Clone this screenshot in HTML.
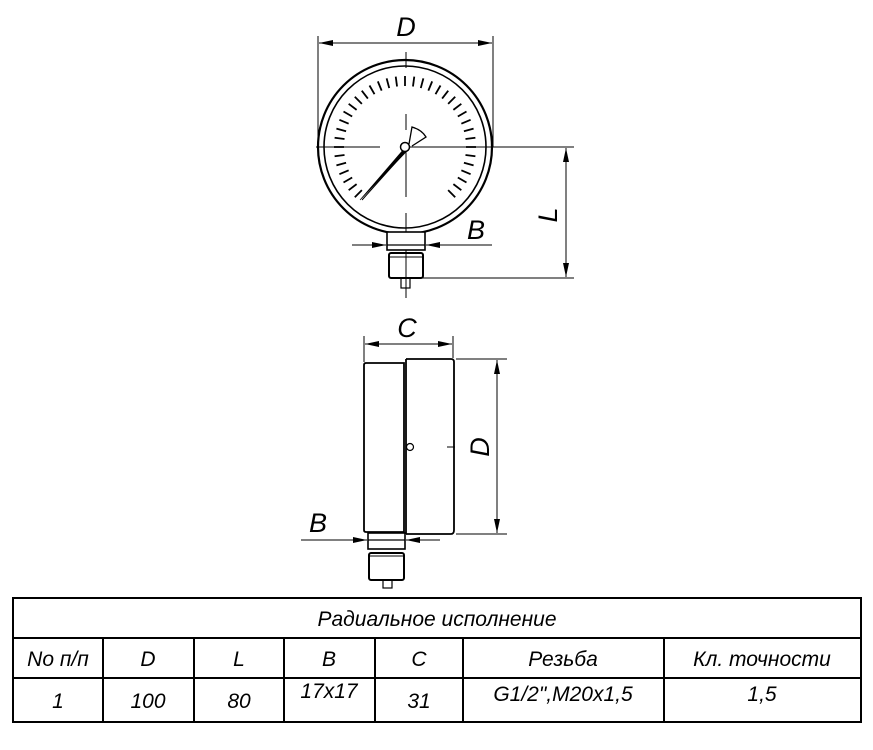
<!DOCTYPE html>
<html><head><meta charset="utf-8"><style>
html,body{margin:0;padding:0;background:#fff;}
svg{display:block}
text{font-family:"Liberation Sans","DejaVu Sans",sans-serif;font-style:italic;fill:#000}
</style></head><body>
<svg width="873" height="750" viewBox="0 0 873 750" xmlns="http://www.w3.org/2000/svg">
<defs>
<marker id="a" viewBox="0 0 14 6" refX="14" refY="3" markerWidth="14" markerHeight="6" orient="auto-start-reverse" markerUnits="userSpaceOnUse"><path d="M0,0 L14,3 L0,6 z" fill="#000"/></marker>
<line id="t" x1="405" y1="76" x2="405" y2="86" stroke="#000" stroke-width="1.8"/>
</defs>
<g stroke="#000" fill="none">
<circle cx="405" cy="147" r="87" stroke-width="2.2"/>
<circle cx="405" cy="147" r="81" stroke-width="1.6"/>
<line x1="318" y1="36" x2="318" y2="147" stroke-width="1"/>
<line x1="493" y1="36" x2="493" y2="147" stroke-width="1"/>
<line x1="319" y1="43" x2="492" y2="43" stroke-width="1" marker-start="url(#a)" marker-end="url(#a)"/>
<line x1="316" y1="147" x2="380" y2="147" stroke-width="1"/>
<line x1="410" y1="147" x2="574" y2="147" stroke-width="1"/>
<line x1="406" y1="52" x2="406" y2="68" stroke-width="1"/>
<line x1="406" y1="114" x2="406" y2="130" stroke-width="1"/>
<line x1="406" y1="150" x2="406" y2="197" stroke-width="1"/>
<line x1="406" y1="213" x2="406" y2="298" stroke-width="1"/>
<line x1="566" y1="148" x2="566" y2="277" stroke-width="1" marker-start="url(#a)" marker-end="url(#a)"/>
<line x1="420" y1="278" x2="574" y2="278" stroke-width="1"/>
</g>
<g>
<use href="#t" transform="rotate(-135 405 147)"/>
<use href="#t" transform="rotate(-127.5 405 147)"/>
<use href="#t" transform="rotate(-120 405 147)"/>
<use href="#t" transform="rotate(-112.5 405 147)"/>
<use href="#t" transform="rotate(-105 405 147)"/>
<use href="#t" transform="rotate(-97.5 405 147)"/>
<use href="#t" transform="rotate(-90 405 147)"/>
<use href="#t" transform="rotate(-82.5 405 147)"/>
<use href="#t" transform="rotate(-75 405 147)"/>
<use href="#t" transform="rotate(-67.5 405 147)"/>
<use href="#t" transform="rotate(-60 405 147)"/>
<use href="#t" transform="rotate(-52.5 405 147)"/>
<use href="#t" transform="rotate(-45 405 147)"/>
<use href="#t" transform="rotate(-37.5 405 147)"/>
<use href="#t" transform="rotate(-30 405 147)"/>
<use href="#t" transform="rotate(-22.5 405 147)"/>
<use href="#t" transform="rotate(-15 405 147)"/>
<use href="#t" transform="rotate(-7.5 405 147)"/>
<use href="#t" transform="rotate(0 405 147)"/>
<use href="#t" transform="rotate(7.5 405 147)"/>
<use href="#t" transform="rotate(15 405 147)"/>
<use href="#t" transform="rotate(22.5 405 147)"/>
<use href="#t" transform="rotate(30 405 147)"/>
<use href="#t" transform="rotate(37.5 405 147)"/>
<use href="#t" transform="rotate(45 405 147)"/>
<use href="#t" transform="rotate(52.5 405 147)"/>
<use href="#t" transform="rotate(60 405 147)"/>
<use href="#t" transform="rotate(67.5 405 147)"/>
<use href="#t" transform="rotate(75 405 147)"/>
<use href="#t" transform="rotate(82.5 405 147)"/>
<use href="#t" transform="rotate(90 405 147)"/>
<use href="#t" transform="rotate(97.5 405 147)"/>
<use href="#t" transform="rotate(105 405 147)"/>
<use href="#t" transform="rotate(112.5 405 147)"/>
<use href="#t" transform="rotate(120 405 147)"/>
<use href="#t" transform="rotate(127.5 405 147)"/>
<use href="#t" transform="rotate(135 405 147)"/>
</g>
<g stroke="#000" fill="none">
<path d="M360,200 L403,150 L406,152 Z" fill="#000" stroke-width="0.6"/>
<line x1="362" y1="200" x2="406" y2="151" stroke-width="1"/>
<path d="M409,144 L412,127 Q422,130 426,137 L412,146" stroke-width="1.3" fill="#fff"/>
<circle cx="405" cy="147" r="4.5" stroke-width="1.5" fill="#fff"/>
<rect x="387" y="232" width="38" height="18" stroke-width="1.6" fill="#fff"/>
<line x1="387" y1="245" x2="425" y2="245" stroke-width="1.2"/>
<rect x="389" y="253" width="34" height="25" rx="2" stroke-width="2"/>
<line x1="390" y1="257" x2="422" y2="257" stroke-width="1"/>
<rect x="401" y="278" width="9" height="10" stroke-width="1.2"/>
<line x1="352" y1="245" x2="386" y2="245" stroke-width="1" marker-end="url(#a)"/>
<line x1="492" y1="245" x2="426" y2="245" stroke-width="1" marker-end="url(#a)"/>
<path d="M366,363 L404,363 L404,532 L366,532 Q364,532 364,530 L364,365 Q364,363 366,363 Z" stroke-width="1.8"/>
<path d="M406,359 L451,359 Q454,359 454,362 L454,530 Q454,534 451,534 L406,534" stroke-width="1.8"/>
<line x1="406" y1="359" x2="406" y2="534" stroke-width="1.8"/>
<circle cx="410" cy="447" r="3.5" stroke-width="1.2"/>
<line x1="364" y1="336" x2="364" y2="362" stroke-width="1"/>
<line x1="453" y1="336" x2="453" y2="358" stroke-width="1"/>
<line x1="365" y1="344" x2="452" y2="344" stroke-width="1" marker-start="url(#a)" marker-end="url(#a)"/>
<line x1="456" y1="359" x2="507" y2="359" stroke-width="1"/>
<line x1="456" y1="534" x2="507" y2="534" stroke-width="1"/>
<line x1="497" y1="360" x2="497" y2="533" stroke-width="1" marker-start="url(#a)" marker-end="url(#a)"/>
<line x1="447" y1="447" x2="455" y2="447" stroke-width="1"/>
<rect x="368" y="533" width="37" height="16" stroke-width="1.6"/>
<line x1="368" y1="540" x2="405" y2="540" stroke-width="1.2"/>
<rect x="369" y="553" width="35" height="27" rx="2" stroke-width="2"/>
<line x1="370" y1="556" x2="403" y2="556" stroke-width="1"/>
<rect x="383" y="580" width="9" height="8" stroke-width="1.2"/>
<line x1="301" y1="540" x2="367" y2="540" stroke-width="1" marker-end="url(#a)"/>
<line x1="440" y1="540" x2="406" y2="540" stroke-width="1" marker-end="url(#a)"/>
<rect x="13" y="598" width="848" height="124" stroke-width="2"/>
<line x1="13" y1="638" x2="861" y2="638" stroke-width="2"/>
<line x1="13" y1="678" x2="861" y2="678" stroke-width="2"/>
<line x1="103" y1="638" x2="103" y2="722" stroke-width="2"/>
<line x1="194" y1="638" x2="194" y2="722" stroke-width="2"/>
<line x1="284" y1="638" x2="284" y2="722" stroke-width="2"/>
<line x1="375" y1="638" x2="375" y2="722" stroke-width="2"/>
<line x1="463" y1="638" x2="463" y2="722" stroke-width="2"/>
<line x1="664" y1="638" x2="664" y2="722" stroke-width="2"/>
</g>
<g font-size="27" text-anchor="middle">
<text x="406" y="36">D</text>
<text x="476" y="239">B</text>
<text x="407" y="337">C</text>
<text x="318" y="532">B</text>
<text x="0" y="0" transform="translate(557,215) rotate(-90)">L</text>
<text x="0" y="0" transform="translate(489,447) rotate(-90)">D</text>
</g>
<g font-size="21" text-anchor="middle">
<text x="437" y="626">Радиальное исполнение</text>
<text x="58" y="666">No п/п</text>
<text x="148" y="666">D</text>
<text x="239" y="666">L</text>
<text x="329" y="666">B</text>
<text x="419" y="666">C</text>
<text x="563" y="666">Резьба</text>
<text x="762" y="666">Кл. точности</text>
<text x="58" y="708">1</text>
<text x="148" y="708">100</text>
<text x="239" y="708">80</text>
<text x="329" y="698">17x17</text>
<text x="419" y="708">31</text>
<text x="563" y="701">G1/2",M20x1,5</text>
<text x="762" y="701">1,5</text>
</g>
</svg>
</body></html>
